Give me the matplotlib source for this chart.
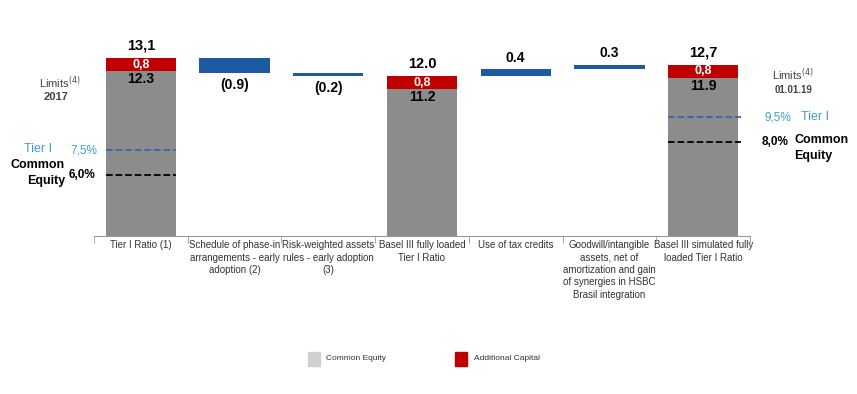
import matplotlib.pyplot as plt
import numpy as np

plt.rcParams['font.family'] = ['Liberation Sans', 'DejaVu Sans']

categories = ['Tier I Ratio (1)',
              'Schedule of phase-in\narrangements - early\nadoption (2)',
              'Risk-weighted assets\nrules - early adoption\n(3)',
              'Basel III fully loaded\nTier I Ratio',
              'Use of tax credits',
              'Goodwill/intangible\nassets, net of\namortization and gain\nof synergies in HSBC\nBrasil integration',
              'Basel III simulated fully\nloaded Tier I Ratio']
common_equity = [12.3, None, None, 11.2, None, None, 11.9]
additional = [0.8, None, None, 0.8, None, None, 0.8]
totals = ['13,1', None, None, '12.0', None, None, '12,7']
ce_labels = ['12.3', None, None, '11.2', None, None, '11.9']
changes = [None, -0.9, -0.2, None, 0.4, 0.3, None]
change_labels = [None, '(0.9)', '(0.2)', None, '0.4', '0.3', None]
limit_2017 = {'Tier I': 7.5, 'Common Equity': 6.0}
limit_2019 = {'Tier I': 9.5, 'Common Equity': 8.0}

grey = '#8c8c8c'
red = '#c00000'
blue = '#1c5aa2'
tier_col = '#3f9fc6'

fig = plt.figure(figsize=(8.57, 3.94), dpi=100)
ax = fig.add_axes([94 / 857, 158 / 394, 656 / 857, 216 / 394])
x = np.arange(len(categories))
w = 0.75

level = 0
for i in x:
    if common_equity[i] is not None:
        ce = common_equity[i]
        ac = additional[i]
        ax.bar(i, ce, w, color=grey, edgecolor='none')
        ax.bar(i, ac, w, bottom=ce, color=red, edgecolor='none')
        ax.text(i, ce + ac + 0.3, totals[i], ha='center', va='bottom',
                fontsize=10.5, fontweight='bold')
        ax.text(i, ce + ac / 2, '0,8', ha='center', va='center',
                fontsize=9, fontweight='bold', color='white')
        ax.text(i, ce - 0.05, ce_labels[i], ha='center', va='top',
                fontsize=10, fontweight='bold')
        level = ce + ac
    else:
        d = changes[i]
        ax.bar(i, abs(d), w, bottom=min(level, level + d), color=blue,
               edgecolor='none')
        if d < 0:
            ax.text(i, level + d - 0.3, change_labels[i], ha='center',
                    va='top', fontsize=10, fontweight='bold')
        else:
            ax.text(i, level + d + 0.3, change_labels[i], ha='center',
                    va='bottom', fontsize=10, fontweight='bold')
        level = level + d

# regulatory limits
ax.plot([-w / 2, w / 2], [limit_2017['Tier I']] * 2, ls='--', color='#3a64a8', lw=1.3)
ax.plot([-w / 2, w / 2], [limit_2017['Common Equity']] * 2, ls='--', color='black', lw=1.3)
ax.plot([6 - w / 2, 6 + w / 2 + 0.03], [limit_2019['Tier I']] * 2, ls='--', color='#3a64a8', lw=1.3)
ax.plot([6 - w / 2, 6 + w / 2 + 0.03], [limit_2019['Common Equity']] * 2, ls='--', color='black', lw=1.3)

ax.text(-0.87, 11.6, 'Limits$^{(4)}$', ha='center', va='center',
        fontsize=8, color='#444444')
ax.text(-0.9, 10.7, '2017', ha='center', va='center',
        fontsize=8, color='#444444', fontweight='bold')
ax.text(-0.47, limit_2017['Tier I'], '7,5%', ha='right', va='center',
        fontsize=8.5, color=tier_col)
ax.text(-0.49, limit_2017['Common Equity'], '6,0%', ha='right', va='center',
        fontsize=8.5, fontweight='bold')
ax.text(-0.95, limit_2017['Tier I'] + 0.05, 'Tier I', ha='right', va='center',
        fontsize=9, color=tier_col)
ax.text(-0.81, 6.95, 'Common\nEquity', ha='right',
        va='top', fontsize=9, fontweight='bold', linespacing=1.4)

ax.text(6.73, 12.06, 'Limits$^{(4)}$', ha='left', va='center',
        fontsize=8, color='#444444')
ax.text(6.76, 11.15, '01.01.19', ha='left', va='center',
        fontsize=7, color='#444444', fontweight='bold')
ax.text(6.65, limit_2019['Tier I'], '9,5%', ha='left', va='center',
        fontsize=8.5, color=tier_col)
ax.text(7.04, limit_2019['Tier I'], 'Tier I', ha='left', va='center',
        fontsize=9, color=tier_col)
ax.text(6.62, limit_2019['Common Equity'], '8,0%', ha='left', va='center',
        fontsize=8.5, fontweight='bold')
ax.text(6.97, 8.5, 'Common\nEquity', ha='left',
        va='top', fontsize=9, fontweight='bold', linespacing=1.45)

ax.set_xlim(-0.5, 6.5)
ax.set_ylim(2.3, 15.4)
for s in ['top', 'right', 'left']:
    ax.spines[s].set_visible(False)
ax.spines['bottom'].set_color('#999999')
ax.set_yticks([])
ax.set_xticks(x)
ax.set_xticklabels(categories, fontsize=7, color='#333333', va='top',
                   linespacing=1.3)
ax.tick_params(axis='x', which='major', length=0, pad=3)
ax.set_xticks(np.arange(-0.5, 7, 1), minor=True)
ax.tick_params(axis='x', which='minor', length=5, color='#999999', direction='out')

# legend
fig.patches.append(plt.Rectangle((308 / 857, 28 / 394), 12 / 857, 14 / 394,
                                 transform=fig.transFigure, color='#d0d0d0'))
fig.text(326 / 857, 35 / 394, 'Common Equity', fontsize=6, va='center', color='#333333')
fig.patches.append(plt.Rectangle((455 / 857, 28 / 394), 12 / 857, 14 / 394,
                                 transform=fig.transFigure, color=red))
fig.text(474 / 857, 35 / 394, 'Additional Capital', fontsize=6, va='center', color='#333333')

fig.savefig('out.png', dpi=100)
